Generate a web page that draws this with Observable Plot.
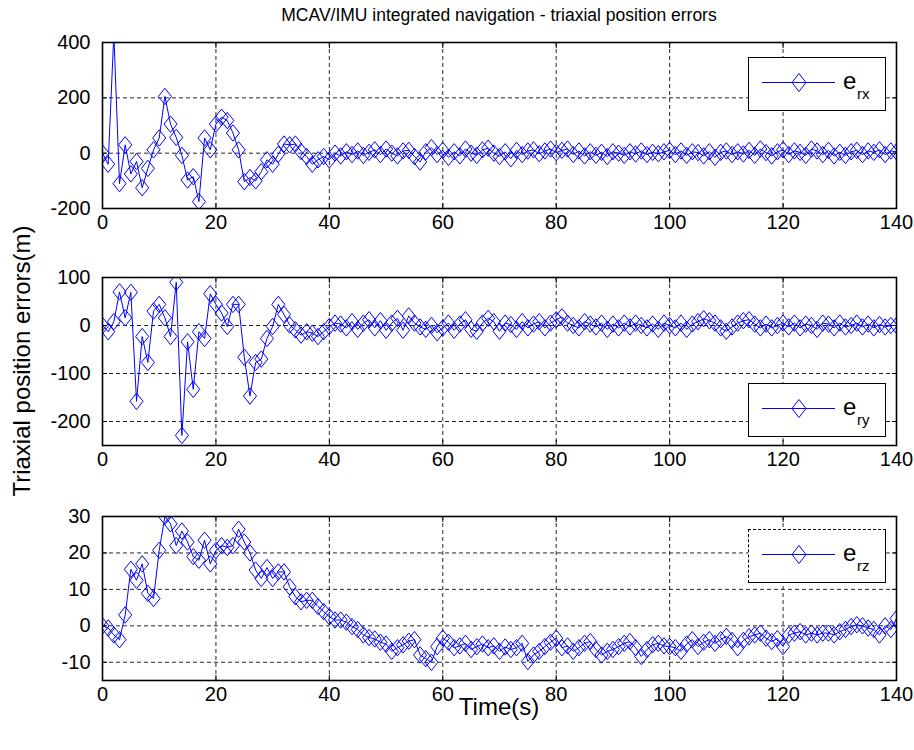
<!DOCTYPE html>
<html><head><meta charset="utf-8">
<script src="https://cdn.jsdelivr.net/npm/d3@7"></script>
<script src="https://cdn.jsdelivr.net/npm/@observablehq/plot@0.6"></script>
<style>
body{margin:0;background:#fff;font-family:"Liberation Sans",Arial,sans-serif;}
#wrap{position:relative;width:914px;height:750px;overflow:hidden;background:#fff;}
.panel{position:absolute;left:0;}
.legend{position:absolute;background:#fff;border:1.5px solid #000;box-sizing:border-box;}
.txt{position:absolute;color:#000;white-space:nowrap;line-height:1;}
</style></head><body><div id="wrap"></div><script>
const title = "MCAV/IMU integrated navigation - triaxial position errors";
const yLabel = "Triaxial position errors(m)";
const xLabel = "Time(s)";
const seriesNames = ["rx", "ry", "rz"];

const time = d3.range(0, 141);
const xTicks = [0, 20, 40, 60, 80, 100, 120, 140];

const erx = [0,-40,430,-110,30,-75,-30,-125,-55,12,55,205,105,57,-8,-97,-85,-175,55,12,
105,130,118,73,12,-103,-88,-100,-67,-24,-40,-4,33,30,33,6,-12,-40,-24,-12,
-24,0,-10,5,-5,8,-8,3,12,-5,15,0,-10,8,10,-12,-32,5,20,-5,
10,-15,5,-10,15,0,-8,12,18,0,-12,5,-20,10,-5,8,12,-2,8,15,
2,10,15,-5,8,-10,5,-8,3,-12,5,0,-8,5,-3,8,-5,3,-2,5,
10,-5,8,-8,5,2,-10,5,-15,3,8,-5,5,-3,10,-8,15,2,-10,5,
12,-5,8,3,-8,15,8,-5,10,-10,3,-8,5,10,-5,8,3,12,-5,8,5];

const ery = [0,-13,8,70,16,69,-158,-23,-77,30,44,16,-23,90,-229,-34,-133,-13,-27,66,
44,26,-2,44,44,-66,-147,-77,-70,-27,-2,44,23,1,-9,-20,-13,-16,-23,-13,
-2,5,3,-5,8,-8,5,12,-5,10,-10,5,15,-10,20,5,-3,-8,0,-15,
-5,5,-10,3,12,-8,-12,5,15,8,-12,5,2,-8,8,-5,3,8,-5,5,
12,18,5,0,-5,8,3,-3,5,-8,3,-5,5,-3,5,0,-5,3,-8,5,
0,-5,5,-8,3,8,14,10,5,-5,-12,-3,5,10,12,3,-5,3,-5,0,
5,-3,5,-5,3,0,-8,5,3,-5,5,-3,0,5,-3,3,-5,2,-3,0,0];

const erz = [0,-0.6,-2.5,-3.8,3,15.5,12.5,17,8.9,7.5,20.7,30,28,22,26,23,19,18,23.5,17,
20.7,22,21.5,22,26.5,23,20,15.3,13,16,13,14.8,14.8,10.7,8,6.6,7,7,5.3,3.9,
2.5,1.6,1.6,1,-0.2,-1,-2.5,-3.2,-3.6,-4.5,-5,-7,-6,-5.2,-4.2,-3.8,-8,-9,-10,-5.7,
-3.4,-4.5,-6,-5.5,-4.8,-6.5,-5.7,-5,-6,-5.5,-7,-5.8,-6.5,-6,-4.8,-9.8,-8,-7,-5.7,-4.5,
-3.4,-6,-5.5,-7,-6,-4.8,-4.3,-6.5,-8,-7,-6.5,-5.7,-4.8,-4.3,-6,-8.4,-6.5,-5.2,-4.8,-5.5,
-5.7,-6,-7,-5,-3.8,-5.7,-4.5,-3.8,-4.8,-3.8,-2.9,-4,-6,-4,-3,-2.5,-2,-3.4,-4.3,-3.5,
-5.7,-2.5,-2,-1.6,-2.5,-2,-2.5,-2,-2,-2.5,-1.6,-1,-0.2,0.3,0,-0.6,-1,-2.5,0,-1,2];

const yDomains = [[-200, 400], [-250, 100], [-15, 30]];
const yTickSets = [[-200, 0, 200, 400], [-200, -100, 0, 100], [-10, 0, 10, 20, 30]];

const blue = "#0000ff";
const wrap = document.getElementById("wrap");

// MATLAB-style diamond marker (slightly taller than wide)
const matDiamond = {
  draw(ctx, size) {
    const r = Math.sqrt(size / Math.PI);
    const h = r, w = r * 0.8;
    ctx.moveTo(0, -h); ctx.lineTo(w, 0); ctx.lineTo(0, h); ctx.lineTo(-w, 0); ctx.closePath();
  }
};

const layout = [
  {svgTop: 25, areaTop: 42, areaBottom: 208, legTop: 57, legDashed: false},
  {svgTop: 260, areaTop: 277, areaBottom: 445, legTop: 383, legDashed: false},
  {svgTop: 499, areaTop: 516, areaBottom: 680, legTop: 529, legDashed: true}
];
const H = 235;
const series = [erx, ery, erz];
const tickFont = 20;

series.forEach((vals, k) => {
  const L = layout[k];
  const data = time.map((t, i) => ({t, v: vals[i]}));
  const mt = L.areaTop - L.svgTop;
  const mb = L.svgTop + H - L.areaBottom;
  const ticks = yTickSets[k];
  const fmt = d => String(d);
  const chart = Plot.plot({
    width: 914, height: H,
    marginLeft: 102, marginRight: 18, marginTop: mt, marginBottom: mb,
    style: {fontFamily: '"Liberation Sans", Arial, sans-serif', fontSize: tickFont + "px", background: "transparent", color: "#000", overflow: "visible"},
    x: {domain: [0, 140], ticks: xTicks, label: null},
    y: {domain: yDomains[k], ticks, label: null},
    marks: [
      Plot.gridX(xTicks, {stroke: "#000", strokeOpacity: 0.85, strokeDasharray: "4,3", strokeWidth: 1}),
      Plot.gridY(ticks, {stroke: "#000", strokeOpacity: 0.85, strokeDasharray: "4,3", strokeWidth: 1}),
      Plot.axisX(xTicks, {anchor: "bottom", tickSize: 0, tickPadding: 6, tickFormat: fmt, fontSize: tickFont, label: null}),
      Plot.axisY(ticks, {anchor: "left", tickSize: 0, tickPadding: 12, tickFormat: fmt, fontSize: tickFont, label: null}),
      Plot.axisX(xTicks, {anchor: "bottom", tickSize: 5, dy: -5, tickFormat: () => "", strokeWidth: 1, label: null}),
      Plot.axisX(xTicks, {anchor: "top", tickSize: 5, dy: 5, tickFormat: () => "", strokeWidth: 1, label: null}),
      Plot.axisY(ticks, {anchor: "left", tickSize: 5, dx: 5, tickFormat: () => "", strokeWidth: 1, label: null}),
      Plot.axisY(ticks, {anchor: "right", tickSize: 5, dx: -5, tickFormat: () => "", strokeWidth: 1, label: null}),
      Plot.line(data, {x: "t", y: "v", stroke: blue, strokeWidth: 1, clip: true}),
      Plot.dot(data, {x: "t", y: "v", symbol: matDiamond, r: 8.2, stroke: blue, fill: "none", strokeWidth: 1, clip: true}),
      Plot.frame({stroke: "#000", strokeWidth: 1.6})
    ]
  });
  chart.classList.add("panel");
  chart.style.top = L.svgTop + "px";
  wrap.appendChild(chart);

  // legend box
  const leg = document.createElement("div");
  leg.className = "legend";
  leg.style.left = "748px"; leg.style.top = L.legTop + "px";
  leg.style.width = "138px"; leg.style.height = "54px";
  if (L.legDashed) { leg.style.borderTop = "1.5px dashed #000"; leg.style.borderLeft = "1.5px dashed #000"; }
  const ns = "http://www.w3.org/2000/svg";
  const s = document.createElementNS(ns, "svg");
  s.setAttribute("width", "135"); s.setAttribute("height", "51");
  s.style.position = "absolute"; s.style.left = "0"; s.style.top = "0";
  s.innerHTML = `<line x1="13" x2="86" y1="24.5" y2="24.5" stroke="${blue}" stroke-width="1"/>
    <path d="M50,15.5L57,24.5L50,33.5L43,24.5Z" fill="none" stroke="${blue}" stroke-width="1"/>
    <text x="94" y="30.5" font-size="24" font-family="Liberation Sans, Arial, sans-serif">e</text>
    <text x="108" y="40.5" font-size="15" font-family="Liberation Sans, Arial, sans-serif">${seriesNames[k]}</text>`;
  leg.appendChild(s);
  wrap.appendChild(leg);
});

function addText(str, x, y, size, rotate) {
  const d = document.createElement("div");
  d.className = "txt";
  d.textContent = str;
  d.style.fontSize = size + "px";
  d.style.left = x + "px"; d.style.top = y + "px";
  d.style.transform = rotate ? "translate(-50%,-50%) rotate(-90deg)" : "translate(-50%,-50%)";
  wrap.appendChild(d);
}
addText(title, 499, 16, 17.5, false);
addText(xLabel, 499, 707, 24, false);
addText(yLabel, 22, 361, 24, true);
</script></body></html>
